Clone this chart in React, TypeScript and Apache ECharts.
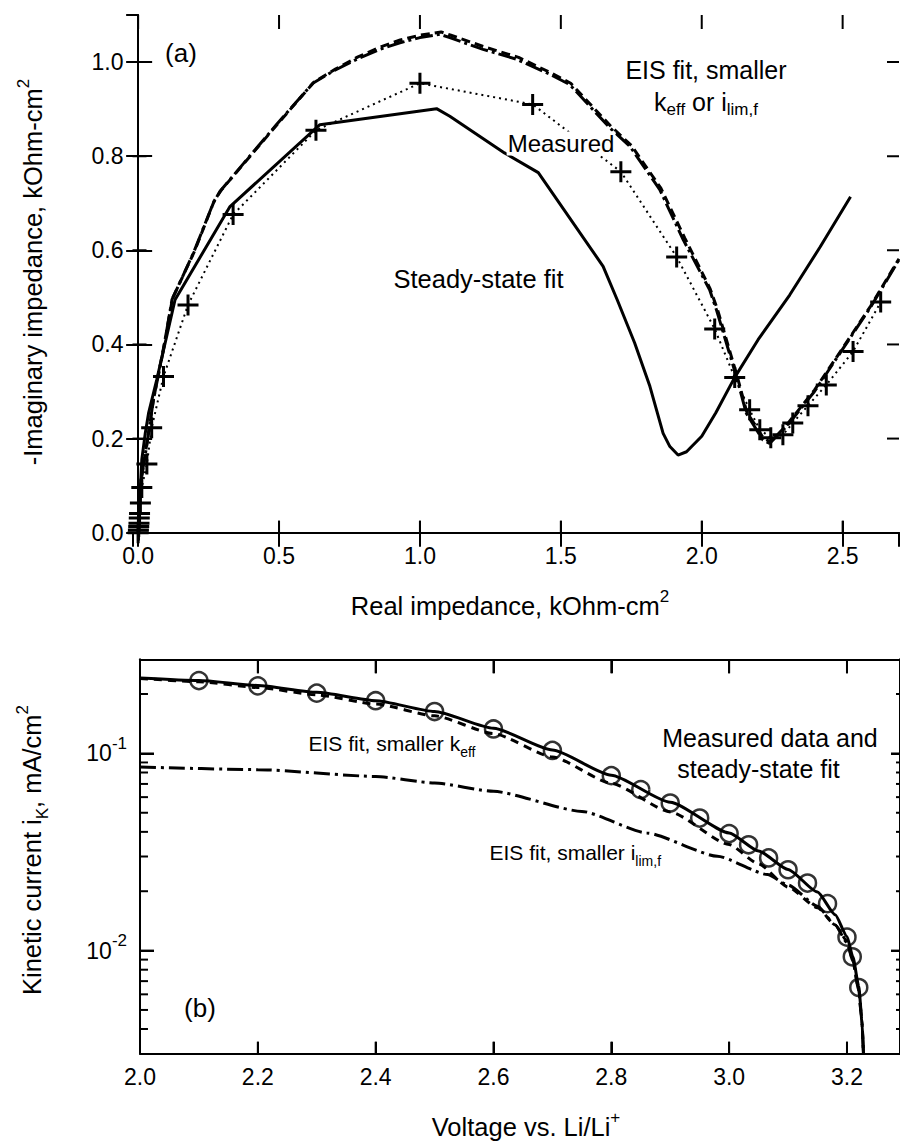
import React, { useEffect, useRef } from 'react';
import * as echarts from 'echarts';

const FONT = '"Liberation Sans", Arial, Helvetica, sans-serif';

// ---------- Panel (a): Nyquist plot ----------
const measRe = [0, 0.001, 0.002, 0.003, 0.004, 0.005, 0.008, 0.013, 0.031, 0.048, 0.09, 0.177, 0.337, 0.631, 1.0, 1.40, 1.713, 1.911, 2.046, 2.117, 2.17, 2.206, 2.245, 2.288, 2.323, 2.377, 2.442, 2.537, 2.635];
const measIm = [0, 0.006, 0.013, 0.02, 0.031, 0.041, 0.063, 0.096, 0.146, 0.223, 0.332, 0.484, 0.676, 0.855, 0.955, 0.91, 0.767, 0.586, 0.433, 0.33, 0.261, 0.219, 0.202, 0.208, 0.233, 0.27, 0.314, 0.385, 0.49];

const steadyRe = [0, 0.005, 0.013, 0.025, 0.037, 0.066, 0.131, 0.326, 0.645, 1.059, 1.106, 1.30, 1.42, 1.65, 1.70, 1.762, 1.816, 1.863, 1.887, 1.916, 1.946, 2.0, 2.05, 2.117, 2.2, 2.312, 2.42, 2.528];
const steadyIm = [0, 0.06, 0.155, 0.21, 0.254, 0.325, 0.495, 0.693, 0.867, 0.901, 0.885, 0.807, 0.765, 0.566, 0.495, 0.403, 0.311, 0.211, 0.183, 0.165, 0.172, 0.205, 0.255, 0.33, 0.41, 0.505, 0.607, 0.714];

const ilimRe = [0, 0.001, 0.006, 0.03, 0.054, 0.09, 0.12, 0.196, 0.267, 0.29, 0.492, 0.62, 0.693, 0.776, 0.858, 0.929, 1.0, 1.071, 1.106, 1.224, 1.343, 1.461, 1.532, 1.674, 1.745, 1.851, 1.934, 2.028, 2.052, 2.123, 2.158, 2.217, 2.241, 2.3, 2.4, 2.5, 2.6, 2.7];
const ilimIm = [0, 0.006, 0.098, 0.183, 0.282, 0.389, 0.495, 0.594, 0.701, 0.725, 0.868, 0.955, 0.981, 1.006, 1.027, 1.041, 1.052, 1.059, 1.052, 1.027, 1.006, 0.974, 0.952, 0.86, 0.821, 0.729, 0.623, 0.516, 0.474, 0.332, 0.254, 0.197, 0.19, 0.225, 0.3, 0.39, 0.48, 0.58];

const keffRe = [0, 0.002, 0.008, 0.03, 0.055, 0.09, 0.122, 0.2, 0.27, 0.295, 0.5, 0.625, 0.7, 0.78, 0.86, 0.93, 1.0, 1.075, 1.11, 1.23, 1.35, 1.465, 1.535, 1.68, 1.75, 1.855, 1.94, 2.03, 2.055, 2.125, 2.16, 2.22, 2.245, 2.3, 2.4, 2.5, 2.6, 2.7];
const keffIm = [0, 0.01, 0.1, 0.186, 0.285, 0.392, 0.498, 0.598, 0.705, 0.728, 0.872, 0.958, 0.985, 1.011, 1.032, 1.047, 1.057, 1.064, 1.057, 1.032, 1.01, 0.977, 0.955, 0.862, 0.823, 0.732, 0.626, 0.518, 0.476, 0.334, 0.256, 0.2, 0.193, 0.228, 0.303, 0.392, 0.482, 0.582];

// ---------- Panel (b): kinetic current vs voltage ----------
const measV = [2.1, 2.2, 2.3, 2.4, 2.5, 2.6, 2.7, 2.8, 2.85, 2.9, 2.95, 3.0, 3.033, 3.067, 3.1, 3.133, 3.167, 3.2, 3.209, 3.22];
const measI = [0.234, 0.220, 0.202, 0.185, 0.163, 0.133, 0.1035, 0.0771, 0.0655, 0.056, 0.047, 0.0392, 0.0344, 0.0295, 0.0257, 0.022, 0.0173, 0.0117, 0.0093, 0.0065];

const fitV = [2.0, 2.1, 2.2, 2.3, 2.4, 2.5, 2.6, 2.7, 2.8, 2.9, 3.0, 3.05, 3.1, 3.15, 3.18, 3.2, 3.21, 3.22, 3.225, 3.228];
const fitI = [0.241, 0.234, 0.221, 0.204, 0.185, 0.163, 0.134, 0.104, 0.0775, 0.0565, 0.0395, 0.032, 0.0258, 0.0198, 0.0152, 0.0118, 0.0093, 0.0066, 0.0046, 0.003];

const keffV = [2.0, 2.1, 2.2, 2.3, 2.4, 2.5, 2.6, 2.7, 2.8, 2.9, 3.0, 3.05, 3.1, 3.15, 3.18, 3.2, 3.21, 3.22, 3.225, 3.228];
const keffI = [0.240, 0.231, 0.216, 0.198, 0.178, 0.155, 0.126, 0.096, 0.0705, 0.0505, 0.0345, 0.0275, 0.021, 0.0165, 0.0135, 0.0112, 0.0089, 0.0063, 0.0045, 0.003];

const ilimV = [2.0, 2.2, 2.4, 2.5, 2.6, 2.75, 2.86, 2.98, 3.065, 3.1, 3.15, 3.18, 3.2, 3.21, 3.22, 3.225, 3.228];
const ilimI = [0.0853, 0.0827, 0.0764, 0.0708, 0.0642, 0.0508, 0.0395, 0.0301, 0.0243, 0.0215, 0.0168, 0.0135, 0.011, 0.0088, 0.0063, 0.0045, 0.003];

// tick values
const xTicksA = [0, 0.5, 1.0, 1.5, 2.0, 2.5];
const yTicksA = [0.2, 0.4, 0.6, 0.8, 1.0];
const xTicksB = [2.2, 2.4, 2.6, 2.8, 3.0, 3.2];
const yTicksB = [0.01, 0.1];
const minorTicksB = [0.004, 0.005, 0.006, 0.007, 0.008, 0.009, 0.02, 0.03, 0.04, 0.05, 0.06, 0.07, 0.08, 0.09, 0.2];

const xMinA = -0.02, xMaxA = 2.7, yMinA = 0, yMaxA = 1.1;
const xMinB = 2.0, xMaxB = 3.29, yMinB = 0.003, yMaxB = 0.3;

// grid geometry (px)
const GA = { left: 132.5, top: 15, right: 1, bottom: 609.3 };
const GB = { left: 140, top: 659.3, right: -2, bottom: 88.3 };
const W = 900, H = 1142;

const PLUS = 'path://M-1.5,-10.5H1.5V-1.5H10.5V1.5H1.5V10.5H-1.5V1.5H-10.5V-1.5H-1.5Z';

const pairs = (xs: number[], ys: number[]) => xs.map((x, i) => [x, ys[i]]);

const mkLine = () => ({ show: true, lineStyle: { color: '#000', width: 2 } });
const mkTick = (len: number) => ({ show: true, inside: true, length: len, lineStyle: { color: '#000', width: 2 } });

function tickSeries(): any[] {
  // px -> data-unit conversions derived from the grid/axis geometry
  const pxXA = (W - GA.left - GA.right) / (xMaxA - xMinA);
  const pxYA = (H - GA.top - GA.bottom) / (yMaxA - yMinA);
  const pxXB = (W - GB.left - GB.right) / (xMaxB - xMinB);
  const pxDecB = (H - GB.top - GB.bottom) / (Math.log10(yMaxB) - Math.log10(yMinB));
  const segs: { a: number[]; b: number[]; g: number }[] = [];
  xTicksA.forEach((x) => {
    segs.push({ a: [x, yMinA], b: [x, yMinA + 12 / pxYA], g: 0 });
    segs.push({ a: [x, yMaxA], b: [x, yMaxA - 14 / pxYA], g: 0 });
  });
  yTicksA.forEach((y) => {
    segs.push({ a: [xMinA, y], b: [xMinA + 14 / pxXA, y], g: 0 });
    segs.push({ a: [xMaxA, y], b: [xMaxA - 12 / pxXA, y], g: 0 });
  });
  xTicksB.forEach((x) => {
    segs.push({ a: [x, yMinB], b: [x, yMinB * Math.pow(10, 12 / pxDecB)], g: 1 });
    segs.push({ a: [x, yMaxB], b: [x, yMaxB * Math.pow(10, -14 / pxDecB)], g: 1 });
  });
  yTicksB.forEach((y) => {
    segs.push({ a: [xMinB, y], b: [xMinB + 14 / pxXB, y], g: 1 });
    segs.push({ a: [xMaxB, y], b: [xMaxB - 9 / pxXB, y], g: 1 });
  });
  minorTicksB.forEach((y) => {
    segs.push({ a: [xMinB, y], b: [xMinB + 8 / pxXB, y], g: 1 });
    segs.push({ a: [xMaxB, y], b: [xMaxB - 4 / pxXB, y], g: 1 });
  });
  return segs.map((s, i) => ({
    name: 'tick' + i,
    type: 'line',
    xAxisIndex: s.g === 0 ? 0 : 2,
    yAxisIndex: s.g === 0 ? 0 : 2,
    data: [s.a, s.b],
    symbol: 'none',
    silent: true,
    lineStyle: { color: '#000', width: 2 },
    z: 1,
  }));
}

function buildOption(): any {
  const supRich = { fontSize: 17, lineHeight: 17, verticalAlign: 'top', fontFamily: FONT, fill: '#000' };
  const subRich25 = { fontSize: 17, lineHeight: 17, verticalAlign: 'bottom', fontFamily: FONT, fill: '#000' };
  const subRichK = { fontSize: 17, lineHeight: 25, verticalAlign: 'bottom', fontFamily: FONT, fill: '#000' };
  const subRich21 = { fontSize: 14, lineHeight: 14, verticalAlign: 'bottom', fontFamily: FONT, fill: '#000' };

  const txt = (x: number, y: number, text: string, fontSize: number, extra: any = {}, rot = 0) => ({
    type: 'text',
    x, y,
    rotation: rot,
    silent: true,
    z: 10,
    style: {
      text,
      fontSize,
      fontFamily: FONT,
      fill: '#000',
      align: 'center',
      verticalAlign: 'middle',
      ...extra,
    },
  });

  const tickLabel = () => ({ color: '#000', fontSize: 23, fontFamily: FONT });

  return {
    animation: false,
    grid: [GA, GB],
    xAxis: [
      {
        gridIndex: 0, type: 'value', position: 'bottom', min: xMinA, max: xMaxA, splitNumber: 5,
        axisLine: mkLine(), axisTick: mkTick(12), splitLine: { show: false },
        axisLabel: { ...tickLabel(), margin: 12, showMinLabel: false, showMaxLabel: false, formatter: (v: number) => v.toFixed(1) },
      },
      {
        gridIndex: 0, type: 'value', position: 'top', min: xMinA, max: xMaxA, splitNumber: 5,
        axisLine: mkLine(), axisTick: mkTick(14), splitLine: { show: false }, axisLabel: { show: false },
      },
      {
        gridIndex: 1, type: 'value', position: 'bottom', min: xMinB, max: xMaxB, interval: 0.2,
        axisLine: mkLine(), axisTick: mkTick(12), splitLine: { show: false },
        axisLabel: { ...tickLabel(), margin: 12, showMinLabel: true, showMaxLabel: false, formatter: (v: number) => v.toFixed(1) },
      },
      {
        gridIndex: 1, type: 'value', position: 'top', min: xMinB, max: xMaxB, interval: 0.2,
        axisLine: mkLine(), axisTick: mkTick(14), splitLine: { show: false }, axisLabel: { show: false },
      },
    ],
    yAxis: [
      {
        gridIndex: 0, type: 'value', position: 'left', min: yMinA, max: yMaxA, interval: 0.2,
        axisLine: mkLine(), axisTick: mkTick(14), splitLine: { show: false },
        axisLabel: { ...tickLabel(), margin: 9, showMinLabel: true, showMaxLabel: false, formatter: (v: number) => v.toFixed(1) },
      },
      {
        gridIndex: 0, type: 'value', position: 'right', min: yMinA, max: yMaxA, interval: 0.2,
        axisLine: mkLine(), axisTick: mkTick(12), splitLine: { show: false }, axisLabel: { show: false },
      },
      {
        gridIndex: 1, type: 'log', logBase: 10, position: 'left', min: yMinB, max: yMaxB,
        axisLine: mkLine(), axisTick: mkTick(14), splitLine: { show: false },
        axisLabel: {
          ...tickLabel(), margin: 13, lineHeight: 37, showMinLabel: false, showMaxLabel: false,
          rich: { sup: { fontSize: 17, lineHeight: 17, verticalAlign: 'top', color: '#000', fontFamily: FONT } },
          formatter: (v: number) => '10{sup|' + Math.round(Math.log10(v)) + '}',
        },
      },
      {
        gridIndex: 1, type: 'log', logBase: 10, position: 'right', min: yMinB, max: yMaxB,
        axisLine: mkLine(), axisTick: mkTick(9), splitLine: { show: false }, axisLabel: { show: false },
      },
    ],
    series: [
      // ---- panel (a)
      {
        name: 'Steady-state fit', type: 'line', xAxisIndex: 0, yAxisIndex: 0,
        data: pairs(steadyRe, steadyIm), symbol: 'none',
        lineStyle: { color: '#000', width: 3 },
      },
      {
        name: 'EIS fit, smaller i_lim,f', type: 'line', xAxisIndex: 0, yAxisIndex: 0,
        data: pairs(ilimRe, ilimIm), symbol: 'none',
        lineStyle: { color: '#000', width: 3, type: [18, 4, 3, 4] },
      },
      {
        name: 'EIS fit, smaller k_eff', type: 'line', xAxisIndex: 0, yAxisIndex: 0,
        data: pairs(keffRe, keffIm), symbol: 'none',
        lineStyle: { color: '#000', width: 3, type: [9, 5] },
      },
      {
        name: 'Measured', type: 'line', xAxisIndex: 0, yAxisIndex: 0,
        data: pairs(measRe, measIm), symbol: PLUS, symbolSize: 21, showSymbol: true,
        itemStyle: { color: '#000', borderWidth: 0 },
        lineStyle: { color: '#000', width: 2, type: [2, 4] },
        z: 5,
      },
      // ---- panel (b)
      {
        name: 'Steady-state fit (b)', type: 'line', xAxisIndex: 2, yAxisIndex: 2,
        data: pairs(fitV, fitI), symbol: 'none', smooth: 0.2, smoothMonotone: 'x',
        lineStyle: { color: '#000', width: 3 },
      },
      {
        name: 'EIS fit, smaller k_eff (b)', type: 'line', xAxisIndex: 2, yAxisIndex: 2,
        data: pairs(keffV, keffI), symbol: 'none', smooth: 0.2, smoothMonotone: 'x',
        lineStyle: { color: '#000', width: 3, type: [8, 6] },
      },
      {
        name: 'EIS fit, smaller i_lim,f (b)', type: 'line', xAxisIndex: 2, yAxisIndex: 2,
        data: pairs(ilimV, ilimI), symbol: 'none', smooth: 0.2, smoothMonotone: 'x',
        lineStyle: { color: '#000', width: 3, type: [16, 5, 3, 5] },
      },
      {
        name: 'Measured data', type: 'scatter', xAxisIndex: 2, yAxisIndex: 2,
        data: pairs(measV, measI), symbol: 'circle', symbolSize: 17,
        itemStyle: { color: 'rgba(0,0,0,0)', borderColor: '#000', borderWidth: 2.5 },
        z: 5,
      },
      ...tickSeries(),
    ],
    graphic: [
      // panel (a) annotations
      txt(181, 53, '(a)', 26),
      txt(706, 85.5, 'EIS fit, smaller\n{n|k}{sub|eff}{n| or i}{sub|lim,f}', 25, {
        lineHeight: 32,
        rich: { n: { fontSize: 25, lineHeight: 32, fontFamily: FONT, fill: '#000' }, sub: subRich25 },
      }),
      txt(561, 143.5, 'Measured', 24, { backgroundColor: '#fff', padding: [0, 1, 0, 1] }),
      txt(478.5, 279, 'Steady-state fit', 25.5),
      // panel (a) axis titles
      txt(510, 606, 'Real impedance, kOhm-cm{sup|2}', 25.5, { lineHeight: 37, rich: { sup: supRich } }),
      txt(33, 272, '-Imaginary impedance, kOhm-cm{sup|2}', 25.5, { lineHeight: 37, rich: { sup: supRich } }, Math.PI / 2),
      // panel (b) annotations
      txt(308.5, 743.5, 'EIS fit, smaller k{sub|eff}', 21, { align: 'left', lineHeight: 30, rich: { sub: subRich21 } }),
      txt(770, 738, 'Measured data and', 25),
      txt(758.5, 769, 'steady-state fit', 25),
      txt(489.5, 852.5, 'EIS fit, smaller i{sub|lim,f}', 21, { align: 'left', lineHeight: 30, rich: { sub: subRich21 } }),
      txt(200, 1008, '(b)', 26),
      // panel (b) axis titles
      txt(32, 850, 'Kinetic current i{sub|K}, mA/cm{sup|2}', 25.5, { lineHeight: 37, rich: { sup: supRich, sub: subRichK } }, Math.PI / 2),
      txt(526, 1127, 'Voltage vs. Li/Li{sup|+}', 25.5, { lineHeight: 37, rich: { sup: supRich } }),
    ],
  };
}

export default function App() {
  const ref = useRef<HTMLDivElement>(null);
  useEffect(() => {
    if (!ref.current) return;
    const chart = echarts.init(ref.current, undefined, { renderer: 'svg' });
    chart.setOption(buildOption());
    return () => chart.dispose();
  }, []);
  return (
    <div
      ref={ref}
      style={{ position: 'absolute', left: 0, top: 0, width: 900, height: 1142 }}
    />
  );
}
